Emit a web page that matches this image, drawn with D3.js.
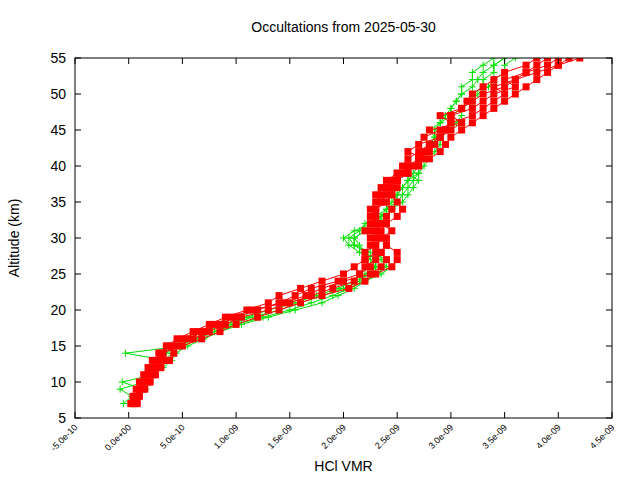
<!DOCTYPE html>
<html><head><meta charset="utf-8">
<script src="https://cdn.jsdelivr.net/npm/d3@7"></script>
<style>body{margin:0;background:#fff}svg{font-family:"Liberation Sans",Arial,sans-serif}</style>
</head><body><svg id="c" width="640" height="480"></svg>
<script>
const title = "Occultations from 2025-05-30";
const xTicks = [-5e-10,0,5e-10,1e-9,1.5e-9,2e-9,2.5e-9,3e-9,3.5e-9,4e-9,4.5e-9];
const xTickLabels = ["-5.0e-10","0.0e+00","5.0e-10","1.0e-09","1.5e-09","2.0e-09","2.5e-09","3.0e-09","3.5e-09","4.0e-09","4.5e-09"];
const yTicks = [5,10,15,20,25,30,35,40,45,50,55];
// altitudes (km) shared by profiles
const alts = [7,8,9,10,11,12,13,14,15,16,17,18,19,20,21,22,23,24,25,26,27,28,29,30,31,32,33,34,35,36,37,38,39,40,41,42,43,44,45,46,47,48,49,50,51,52,53,54,55];
// VMR values in units of 1e-10
const red1 = [0.5,0.8,1,1.5,2,1.8,2.5,3,3.5,4.5,6,7.5,9,11,13,14,16,18,20,21,22,23,23,22.5,22,22.5,23,23,23.5,24,24,25,26,26,27,28,28.5,29,30,31,30,31,32,33,35,36,37,38,39];
const red2 = [0.2,0.6,1.2,1.8,1.4,2.5,3,2.8,4,5.5,7,8.5,10,12,14,15.5,17,19.5,21.5,22,23,23.5,24,24,23,23,22.5,23,24,24.5,25,24.5,25.5,26.5,27,27.5,28,29,29.5,30,32,33,34,35,34,36,38,40,42];
const red3 = [0.8,1,0.7,1.2,2.2,3,3.5,4.2,3.6,5,6.5,8,9.5,11.5,14.5,16.5,18,20,22.5,23.5,24,23.5,22.5,23,23.5,24,24,24.5,23.5,23,24,25,26,25.5,26,27,28,27.5,29,30,29,31,31.5,32,33,34,35,37,38];
const red4 = [0.3,0.5,1.5,1,1.6,2,2.2,3.2,4.5,6,7.5,9,10.5,13,15,17,19,21,21.5,22.5,22,22,23,23.5,24.5,23.5,23,22.5,23,23.5,24.5,25,25,26,28,29,29.5,30,31,32,33,34,35,36,37,38,39,40,41];
const red5 = [0.6,0.4,1.1,2,2.5,2.8,3.8,3,5,6.8,8.5,10,12,14,16,18,20.5,22,23,24.5,25,25,24,23.5,22.5,24,25,25.5,25,24.5,23.5,24,25,27,27.5,26,27,29,28,31,30,32,33,34,36,35,37,39,40];
const green1 = [0.2,0.5,1,1.4,2,2.5,3,3.5,4.5,5.5,7,9,11,13,15.5,17.5,19.5,21,22.5,23,22.5,22,21.5,21,22,23,23.5,24,24.5,25,25.5,26,26.5,27,27,28,28,29,29.5,30,30,31,31.5,32,33,33,34,34,35];
const green2 = [-0.5,0.3,-0.8,1.5,2.5,2.8,3.5,-0.3,5,6.5,8,10,12.5,15,17,19,20.5,22,23,24,23.5,21.5,20.5,20,21,22.5,23.5,24.5,25.5,26,26.5,27,26,26.5,27,27.5,28,28.5,28.5,29,29.5,30,30.5,31,31,32,32,33,34];
const green3 = [0.4,0.9,1.3,-0.6,2.2,3.2,4,4.4,5.5,7,8.5,10.5,13,15.5,18,19.5,21,22,23.5,24.5,24,22.5,21,20.5,21.5,22,23,24,25,25.5,26,26.5,27,27,27.5,28,28,28.5,28,29,30,30,30.5,31,32,32.5,33,34,35];
const green4 = [0.1,0.7,1.6,2,1.5,2.6,3.3,4,4.8,6,8,9.5,11.5,14,16,18,20,21.5,22,23,23,22,21,21,22,23,24,24.5,25,25,25.5,26,27,27.5,28,28.5,29,29,30,30.5,31,31,32,32.5,33.5,34,35,35,36];
const redSeries = [red1,red2,red3,red4,red5];
const greenSeries = [green1,green2,green3,green4];

const svg = d3.select("#c");
const m = {l:75, r:612, t:58, b:418};
const x = d3.scaleLinear().domain([-5e-10,4.5e-9]).range([m.l,m.r]);
const y = d3.scaleLinear().domain([5,55]).range([m.b,m.t]);

svg.append("clipPath").attr("id","clip").append("rect")
  .attr("x",m.l).attr("y",m.t).attr("width",m.r-m.l).attr("height",m.b-m.t);
const g = svg.append("g").attr("clip-path","url(#clip)");
const line = d3.line().x(d=>x(d[0])).y(d=>y(d[1]));
const pts = s => s.map((v,i)=>[v*1e-10, alts[i]]).filter(d=>d[1]!==undefined);

greenSeries.forEach(s=>{
  const p = pts(s);
  g.append("path").attr("d",line(p)).attr("fill","none").attr("stroke","#00e000").attr("stroke-width",1);
  g.selectAll(null).data(p).enter().append("path")
   .attr("d",d=>`M${x(d[0])-3.5},${y(d[1])}h7M${x(d[0])},${y(d[1])-3.5}v7`)
   .attr("stroke","#00e000").attr("stroke-width",1);
});
redSeries.forEach(s=>{
  const p = pts(s);
  g.append("path").attr("d",line(p)).attr("fill","none").attr("stroke","#ff0000").attr("stroke-width",1);
  g.selectAll(null).data(p).enter().append("rect")
   .attr("x",d=>x(d[0])-3.5).attr("y",d=>y(d[1])-3.5).attr("width",7).attr("height",7).attr("fill","#ff0000");
});

// frame
svg.append("rect").attr("x",m.l).attr("y",m.t).attr("width",m.r-m.l).attr("height",m.b-m.t)
  .attr("fill","none").attr("stroke","#000");
// y ticks
yTicks.forEach(t=>{
  svg.append("line").attr("x1",m.l).attr("x2",m.l+6).attr("y1",y(t)).attr("y2",y(t)).attr("stroke","#000");
  svg.append("line").attr("x1",m.r).attr("x2",m.r-6).attr("y1",y(t)).attr("y2",y(t)).attr("stroke","#000");
  svg.append("text").attr("x",m.l-9).attr("y",y(t)+5).attr("text-anchor","end").attr("font-size",14).text(t);
});
xTicks.forEach((t,i)=>{
  svg.append("line").attr("x1",x(t)).attr("x2",x(t)).attr("y1",m.b).attr("y2",m.b-6).attr("stroke","#000");
  svg.append("line").attr("x1",x(t)).attr("x2",x(t)).attr("y1",m.t).attr("y2",m.t+6).attr("stroke","#000");
  svg.append("text").attr("transform",`translate(${x(t)+3},${m.b+10}) rotate(-45)`)
    .attr("text-anchor","end").attr("font-size",9).text(xTickLabels[i]);
});
svg.append("text").attr("x",(m.l+m.r)/2).attr("y",32).attr("text-anchor","middle").attr("font-size",14).text(title);
svg.append("text").attr("x",(m.l+m.r)/2).attr("y",471).attr("text-anchor","middle").attr("font-size",14).text("HCl VMR");
svg.append("text").attr("transform",`translate(19,${(m.t+m.b)/2}) rotate(-90)`).attr("text-anchor","middle").attr("font-size",14).text("Altitude (km)");
</script></body></html>
